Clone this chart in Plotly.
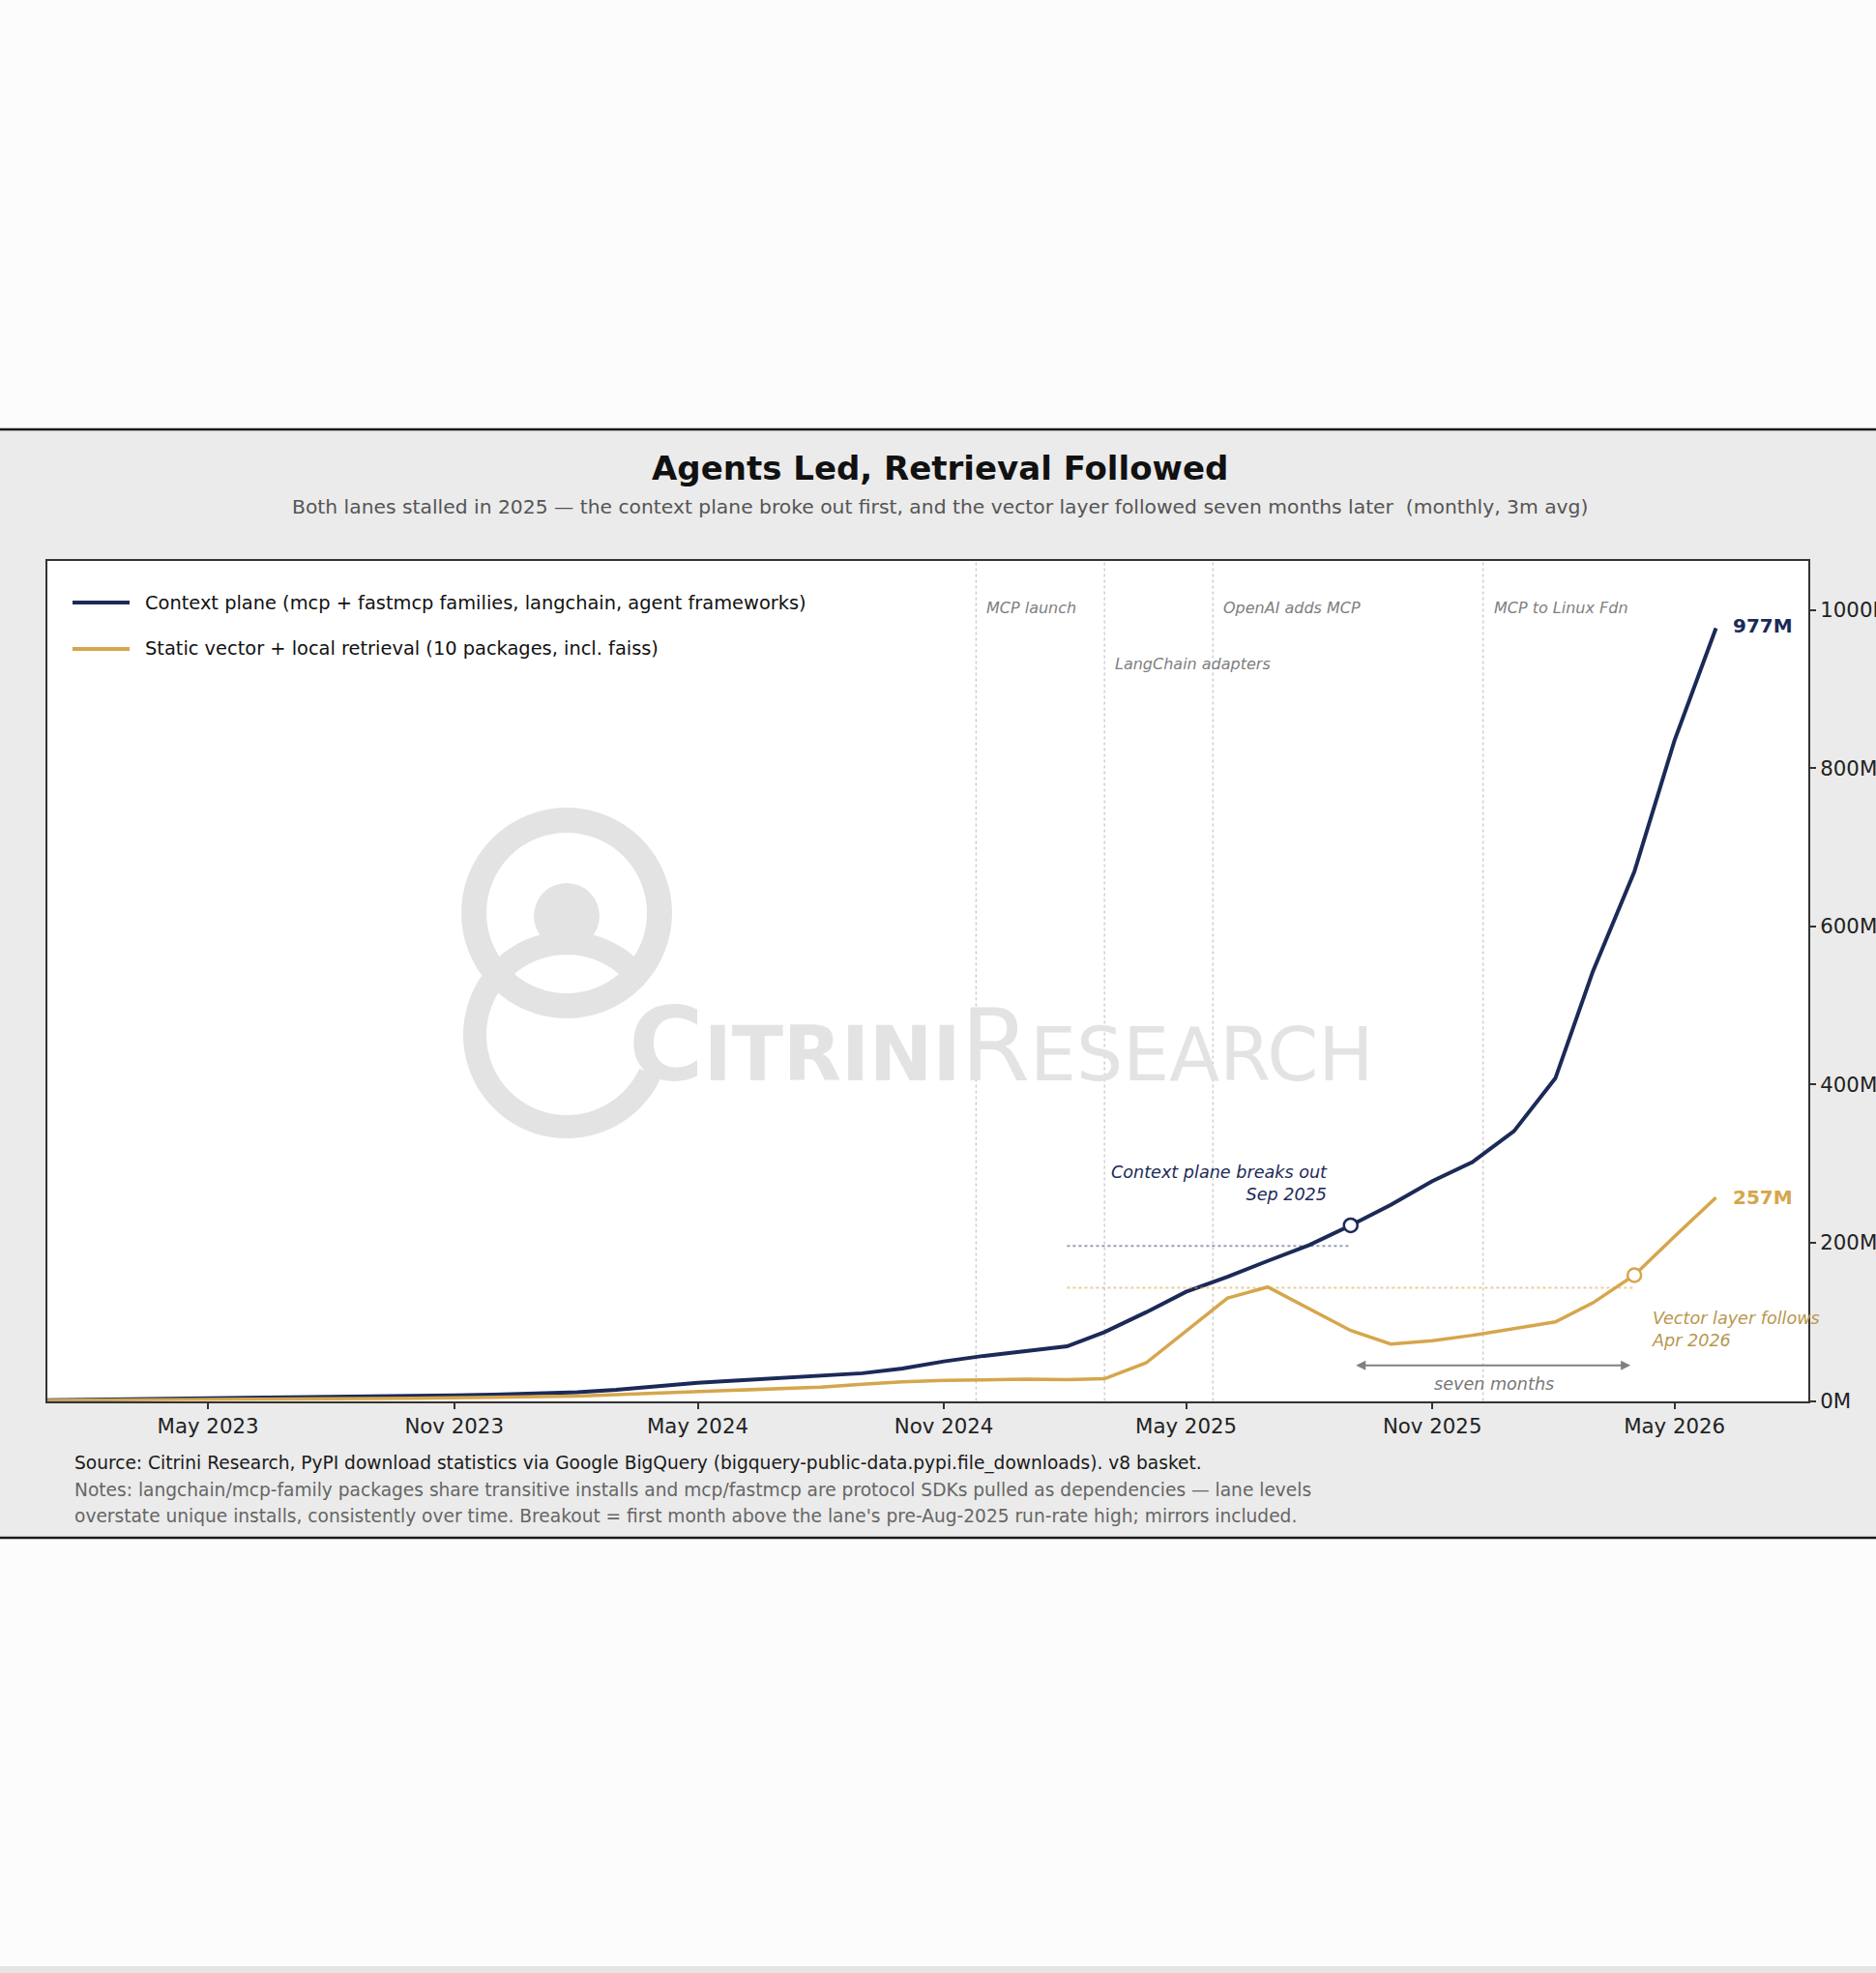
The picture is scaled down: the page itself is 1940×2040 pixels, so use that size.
import numpy as np
import pandas as pd
import plotly.graph_objects as go

# ---------------- data ----------------
months = pd.date_range("2023-01-01", "2026-06-01", freq="MS")

context_plane = [1, 1.5, 2, 2.5, 3, 3.5, 4.5, 5, 6, 6.5, 7, 8,
                 9, 11, 14, 19, 23, 26, 29, 32, 35, 41, 50, 57,
                 63, 69, 87, 112, 138, 157, 177, 197, 222, 248, 278, 302,
                 341, 408, 543, 669, 835, 977]
static_vector = [0.5, 0.7, 1, 1.2, 1.5, 2, 2.3, 2.6, 3, 3.3, 3.8, 4.3,
                 5, 6, 8, 10, 12, 13.5, 15, 17.5, 21, 24, 26, 27,
                 27.5, 27, 28, 48, 89, 130, 144, 117, 89, 72, 76, 83,
                 91, 100, 124, 159, 208, 257]

series_names = ["Context plane (mcp + fastmcp families, langchain, agent frameworks)",
                "Static vector + local retrieval (10 packages, incl. faiss)"]

threshold_start = "2025-02-01"
context_threshold = 196
vector_threshold = 143
context_breakout = "2025-09-01"
vector_breakout = "2026-04-01"

event_dates = ["2024-11-25", "2025-03-01", "2025-05-21", "2025-12-09"]
event_labels = ["MCP launch", "LangChain adapters", "OpenAI adds MCP", "MCP to Linux Fdn"]
event_rows = [0, 1, 0, 0]

y_tickvals = [0, 200, 400, 600, 800, 1000]
y_ticktext = ["0M", "200M", "400M", "600M", "800M", "1000M"]

# ---------------- style ----------------
W, H = 1940, 2040
NAVY = "#1b2a57"
GOLD = "#d5a64c"
GOLD_TXT = "#b8974e"
WM = "#e3e3e3"
FONT = "DejaVu Sans"


def fx(px):
    return px / W


def fy(py):
    return 1 - py / H


x_dom = [fx(49), fx(1870)]
y_dom = [fy(1448.5), fy(580)]

fig = go.Figure()

fig.add_trace(go.Scatter(x=months, y=context_plane, mode="lines",
                         line=dict(color=NAVY, width=4), showlegend=False,
                         name=series_names[0]))
fig.add_trace(go.Scatter(x=months, y=static_vector, mode="lines",
                         line=dict(color=GOLD, width=3.5), showlegend=False,
                         name=series_names[1]))

idx_c = list(months.strftime("%Y-%m-%d")).index(context_breakout)
idx_v = list(months.strftime("%Y-%m-%d")).index(vector_breakout)
fig.add_trace(go.Scatter(x=[months[idx_c]], y=[context_plane[idx_c]], mode="markers",
                         marker=dict(symbol="circle", size=14, color="white",
                                     line=dict(color=NAVY, width=2.5)),
                         showlegend=False))
fig.add_trace(go.Scatter(x=[months[idx_v]], y=[static_vector[idx_v]], mode="markers",
                         marker=dict(symbol="circle", size=14, color="white",
                                     line=dict(color=GOLD, width=2.5)),
                         showlegend=False))

shapes = []
# grey panel
shapes.append(dict(type="rect", xref="paper", yref="paper", x0=-0.01, x1=1.01,
                   y0=fy(1590), y1=fy(444), fillcolor="#ebebeb",
                   line=dict(color="#1a1a1a", width=2.5), layer="below"))
# faint strip at the very bottom of the page
shapes.append(dict(type="rect", xref="paper", yref="paper", x0=-0.01, x1=1.01,
                   y0=-0.01, y1=fy(2033), fillcolor="#e4e4e4",
                   line=dict(width=0), layer="below"))
# white plot area
shapes.append(dict(type="rect", xref="paper", yref="paper", x0=x_dom[0], x1=x_dom[1],
                   y0=y_dom[0], y1=y_dom[1], fillcolor="white",
                   line=dict(width=0), layer="below"))
# watermark logo
cxl, cyl = 586, 944
r = 96
shapes.append(dict(type="circle", xref="paper", yref="paper",
                   x0=fx(cxl - r), x1=fx(cxl + r), y0=fy(cyl + r), y1=fy(cyl - r),
                   line=dict(color=WM, width=26), layer="below"))
rh = 34
shapes.append(dict(type="circle", xref="paper", yref="paper",
                   x0=fx(586 - rh), x1=fx(586 + rh), y0=fy(947 + rh), y1=fy(947 - rh),
                   fillcolor=WM, line=dict(width=0), layer="below"))
th = np.radians(np.linspace(41, 335, 80))
ax_ = 586 + 95 * np.cos(th)
ay_ = 1070 - 95 * np.sin(th)
path = "M " + " L ".join(f"{fx(a):.5f},{fy(b):.5f}" for a, b in zip(ax_, ay_))
shapes.append(dict(type="path", xref="paper", yref="paper", path=path,
                   line=dict(color=WM, width=24), layer="below"))

# legend samples
shapes.append(dict(type="line", xref="paper", yref="paper", x0=fx(75), x1=fx(134),
                   y0=fy(623), y1=fy(623), line=dict(color=NAVY, width=4)))
shapes.append(dict(type="line", xref="paper", yref="paper", x0=fx(75), x1=fx(134),
                   y0=fy(671), y1=fy(671), line=dict(color=GOLD, width=4)))

# event lines
for d in event_dates:
    shapes.append(dict(type="line", xref="x", yref="y domain", x0=d, x1=d, y0=0, y1=1,
                       line=dict(color="#c4c4c4", width=1.2, dash="dot"), layer="below"))

# threshold lines
shapes.append(dict(type="line", xref="x", yref="y", x0=threshold_start, x1=context_breakout,
                   y0=context_threshold, y1=context_threshold,
                   line=dict(color="rgba(27,42,87,0.45)", width=2, dash="dot")))
shapes.append(dict(type="line", xref="x", yref="y", x0=threshold_start, x1=vector_breakout,
                   y0=vector_threshold, y1=vector_threshold,
                   line=dict(color="rgba(213,166,76,0.55)", width=2, dash="dot")))

annotations = []
# title / subtitle
annotations.append(dict(xref="paper", yref="paper", x=fx(972), y=fy(484), showarrow=False,
                        text="<b>Agents Led, Retrieval Followed</b>", xanchor="center",
                        yanchor="middle", font=dict(family=FONT, size=34, color="#111")))
annotations.append(dict(xref="paper", yref="paper", x=fx(972), y=fy(524), showarrow=False,
                        text="Both lanes stalled in 2025 \u2014 the context plane broke out first, and the vector layer followed seven months later  (monthly, 3m avg)",
                        xanchor="center", yanchor="middle",
                        font=dict(family=FONT, size=20.3, color="#555")))
# legend text
for name, yy in zip(series_names, [623, 671]):
    annotations.append(dict(xref="paper", yref="paper", x=fx(148), y=fy(yy), showarrow=False,
                            text=name, xanchor="left", yanchor="middle",
                            font=dict(family=FONT, size=19.4, color="#111")))
# watermark text
annotations.append(dict(xref="paper", yref="paper", x=fx(648), y=fy(1120), showarrow=False,
                        text='<b><span style="font-size:106px">C</span><span style="font-size:78px">ITRINI</span></b>'
                             '<span style="font-size:103px">R</span>ESEARCH',
                        xanchor="left", yanchor="bottom", yshift=-24,
                        font=dict(family=FONT, size=76, color=WM)))
# event labels
for d, lab, row in zip(event_dates, event_labels, event_rows):
    annotations.append(dict(xref="x", yref="paper", x=d, y=fy(628 if row == 0 else 686),
                            showarrow=False, text=f"<i>{lab}</i>", xanchor="left",
                            yanchor="middle", xshift=9,
                            font=dict(family=FONT, size=16, color="#808080")))
# end value labels
annotations.append(dict(x=months[-1], y=context_plane[-1], showarrow=False,
                        text=f"<b>{context_plane[-1]:.0f}M</b>", xanchor="left",
                        yanchor="middle", xshift=15, yshift=3,
                        font=dict(family=FONT, size=20, color=NAVY)))
annotations.append(dict(x=months[-1], y=static_vector[-1], showarrow=False,
                        text=f"<b>{static_vector[-1]:.0f}M</b>", xanchor="left",
                        yanchor="middle", xshift=15, yshift=0,
                        font=dict(family=FONT, size=20, color=GOLD)))
# breakout notes
annotations.append(dict(x=context_breakout, y=275, showarrow=False,
                        text="<i>Context plane breaks out<br>Sep 2025</i>", xanchor="right",
                        align="right", yanchor="middle", xshift=-22,
                        font=dict(family=FONT, size=17.6, color=NAVY)))
annotations.append(dict(x=vector_breakout, y=90, showarrow=False,
                        text="<i>Vector layer follows<br>Apr 2026</i>", xanchor="left",
                        align="left", yanchor="middle", xshift=16,
                        font=dict(family=FONT, size=17.6, color=GOLD_TXT)))
# seven-months arrow
annotations.append(dict(x=vector_breakout, y=45, ax=context_breakout, ay=45,
                        xref="x", yref="y", axref="x", ayref="y", text="",
                        showarrow=True, arrowhead=2, arrowside="end+start",
                        arrowsize=1, arrowwidth=2, arrowcolor="#808080",
                        standoff=4, startstandoff=4))
annotations.append(dict(x="2025-12-17", y=22, showarrow=False, text="<i>seven months</i>",
                        xanchor="center", yanchor="middle",
                        font=dict(family=FONT, size=17.6, color="#777")))
# footer
annotations.append(dict(xref="paper", yref="paper", x=fx(75), y=fy(1513), showarrow=False,
                        text="Source: Citrini Research, PyPI download statistics via Google BigQuery (bigquery-public-data.pypi.file_downloads). v8 basket.",
                        xanchor="left", yanchor="middle",
                        font=dict(family=FONT, size=18.6, color="#1a1a1a")))
annotations.append(dict(xref="paper", yref="paper", x=fx(75), y=fy(1540), showarrow=False,
                        text="Notes: langchain/mcp-family packages share transitive installs and mcp/fastmcp are protocol SDKs pulled as dependencies \u2014 lane levels",
                        xanchor="left", yanchor="middle",
                        font=dict(family=FONT, size=18.6, color="#666")))
annotations.append(dict(xref="paper", yref="paper", x=fx(75), y=fy(1567), showarrow=False,
                        text="overstate unique installs, consistently over time. Breakout = first month above the lane's pre-Aug-2025 run-rate high; mirrors included.",
                        xanchor="left", yanchor="middle",
                        font=dict(family=FONT, size=18.6, color="#666")))

fig.update_layout(
    width=W, height=H,
    margin=dict(l=0, r=0, t=0, b=0, autoexpand=False),
    paper_bgcolor="#fcfcfc",
    plot_bgcolor="rgba(0,0,0,0)",
    shapes=shapes,
    annotations=annotations,
    showlegend=False,
    font=dict(family=FONT, color="#222"),
    xaxis=dict(domain=x_dom, type="date", range=["2023-01-01", "2026-08-09"],
               tick0="2023-05-01", dtick="M6", tickformat="%b %Y",
               ticks="outside", ticklen=6, tickwidth=1.5, tickcolor="#333",
               tickfont=dict(family=FONT, size=21.3, color="#222"),
               showgrid=False, zeroline=False, showline=True, mirror=True,
               linecolor="#333", linewidth=2),
    yaxis=dict(domain=y_dom, range=[0, 1062], side="right",
               tickvals=y_tickvals, ticktext=y_ticktext,
               ticks="outside", ticklen=6, tickwidth=1.5, tickcolor="#333",
               tickfont=dict(family=FONT, size=21.3, color="#222"),
               showgrid=False, zeroline=False, showline=True, mirror=True,
               linecolor="#333", linewidth=2),
)

fig.write_html("out.html", config={"displayModeBar": False},
               post_script="document.body.style.margin='0';document.body.style.overflow='hidden';")
